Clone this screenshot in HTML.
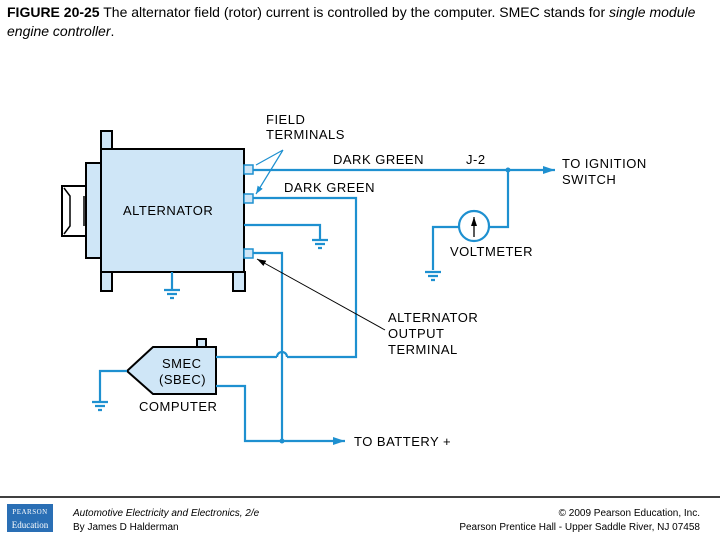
<!DOCTYPE html>
<html><head><style>
body{margin:0;width:720px;height:540px;background:#fff;overflow:hidden;position:relative;font-family:"Liberation Sans",sans-serif}
.t{position:absolute;font-size:13.5px;line-height:16px;color:#000}
</style></head><body>
<div class="t" style="left:7px;top:3px;width:706px;line-height:19px;font-size:14px"><b>FIGURE 20-25</b> The alternator field (rotor) current is controlled by the computer. SMEC stands for <i>single module engine controller</i>.</div>
<svg width="720" height="540" style="position:absolute;left:0;top:0" font-family="Liberation Sans, sans-serif" font-size="13" letter-spacing="0.5">
<defs><marker id="a" markerUnits="userSpaceOnUse" markerWidth="12" markerHeight="8" refX="12" refY="4" orient="auto"><path d="M0,0L12,4L0,8z" fill="#1e90d0"/></marker>
<marker id="s" markerUnits="userSpaceOnUse" markerWidth="8" markerHeight="6" refX="8" refY="3" orient="auto"><path d="M0,0L8,3L0,6z" fill="#1e90d0"/></marker>
<marker id="k" markerUnits="userSpaceOnUse" markerWidth="9" markerHeight="6" refX="9" refY="3" orient="auto"><path d="M0,0L9,3L0,6z" fill="#000"/></marker></defs>
<g fill="#cfe6f7" stroke="#000" stroke-width="2">
<rect x="62" y="186" width="24" height="50" fill="#fff"/>
<rect x="86" y="163" width="15" height="95"/>
<rect x="101" y="131" width="11" height="20"/>
<rect x="101" y="272" width="11" height="19"/>
<rect x="233" y="272" width="12" height="19"/>
<rect x="101" y="149" width="143" height="123"/>
<polygon points="127,371 153,347 216,347 216,394 153,394"/>
<rect x="197" y="339" width="9" height="8"/>
</g>
<g fill="none" stroke="#000" stroke-width="1.5"><path d="M64,188L70,196V226L64,234M84,196V226"/></g>
<g fill="none" stroke="#1e90d0" stroke-width="2.2">
<path d="M253,170H555" marker-end="url(#a)"/>
<path d="M253,198H356V357H287M277,357H216"/>
<path d="M287,357a5,5 0 0 0 -10,0"/>
<path d="M244,225H320V240"/>
<path d="M253,253H282V441H345" marker-end="url(#a)"/>
<path d="M216,386H245V441H282"/>
<path d="M172,272V290"/>
<path d="M508,170V227H489M459,227H433V270"/>
<circle cx="474" cy="226" r="15" fill="#fff"/>
<path d="M127,371H100V402"/>
<path d="M164,290h16M167,294h10M170,298h4M312,240h16M315,244h10M318,248h4M425,272h16M428,276h10M431,280h4M92,402h16M95,406h10M98,410h4"/>
</g>
<g fill="#cfe6f7" stroke="#1e90d0" stroke-width="1.5">
<rect x="244" y="165" width="9" height="9"/><rect x="244" y="194" width="9" height="9"/><rect x="244" y="249" width="9" height="9"/>
</g>
<circle cx="508" cy="170" r="2.5" fill="#1e90d0"/><circle cx="282" cy="441" r="2.5" fill="#1e90d0"/>
<path d="M474,237V217" stroke="#000" stroke-width="1.3" marker-end="url(#k)"/>
<path d="M283,150L256,165M283,150L256,194" stroke="#1e90d0" stroke-width="1.2" fill="none" marker-end="url(#s)"/>
<path d="M385,330L257,259" stroke="#000" stroke-width="1" marker-end="url(#k)"/>
<text x="266" y="124">FIELD</text><text x="266" y="139">TERMINALS</text>
<text x="333" y="164">DARK GREEN</text><text x="466" y="164">J-2</text>
<text x="284" y="192">DARK GREEN</text>
<text x="562" y="168">TO IGNITION</text><text x="562" y="184">SWITCH</text>
<text x="123" y="215">ALTERNATOR</text>
<text x="450" y="256">VOLTMETER</text>
<text x="388" y="322">ALTERNATOR</text><text x="388" y="338">OUTPUT</text><text x="388" y="354">TERMINAL</text>
<text x="162" y="368">SMEC</text><text x="159" y="384">(SBEC)</text>
<text x="139" y="411">COMPUTER</text>
<text x="354" y="446">TO BATTERY +</text>
<line x1="0" y1="497" x2="720" y2="497" stroke="#000" stroke-width="1.5"/>
<rect x="7" y="504" width="46" height="28" fill="#2a6fb5"/>
<text x="30" y="514" fill="#fff" font-size="7" text-anchor="middle" font-family="Liberation Serif,serif">PEARSON</text>
<text x="30" y="528" fill="#fff" font-size="9" text-anchor="middle" font-family="Liberation Serif,serif" letter-spacing="0">Education</text>
</svg>
<div class="t" style="left:73px;top:507px;font-size:10px;line-height:14px"><i>Automotive Electricity and Electronics, 2/e</i><br>By James D Halderman</div>
<div class="t" style="right:20px;top:507px;font-size:10px;line-height:14px;text-align:right">© 2009 Pearson Education, Inc.<br>Pearson Prentice Hall - Upper Saddle River, NJ 07458</div>
</body></html>
